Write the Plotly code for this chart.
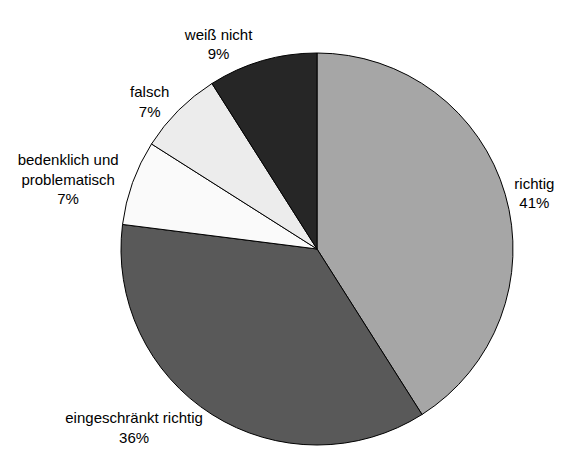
import plotly.graph_objects as go

labels = ['richtig', 'eingeschränkt richtig', 'bedenklich und<br>problematisch', 'falsch', 'weiß nicht']
values = [41, 36, 7, 7, 9]
colors = ['#a6a6a6', '#595959', '#fafafa', '#ececec', '#262626']

fig = go.Figure()
fig.add_trace(go.Pie(
    labels=labels, values=values, sort=False, direction='clockwise', rotation=0,
    marker=dict(colors=colors, line=dict(color='black', width=1)),
    texttemplate='%{label}<br>%{percent:.0%}', textposition='outside',
    textfont=dict(family='Liberation Sans, Arial', size=15, color='black'),
    showlegend=False, hoverinfo='skip'
))

# page body has an 8px margin, so the figure is sized to fit the window without scrollbars
fig.update_layout(
    width=551, height=452,
    margin=dict(l=113, r=34, t=40, b=8),
    paper_bgcolor='white', plot_bgcolor='white',
)

fig.write_html("out.html")
